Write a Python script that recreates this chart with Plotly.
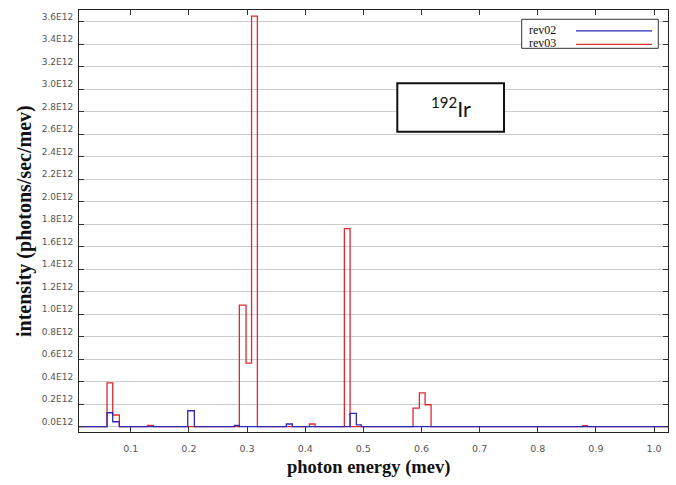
import plotly.graph_objects as go

# Step-histogram bins for the 192Ir photon spectrum: each energy is the left edge
# of a bin (MeV), the intensity holds until the next edge (photons/sec/MeV).
rev02_energy = [0.010, 0.0592, 0.0690, 0.0804, 0.1980, 0.2094, 0.2782, 0.2868,
                0.3676, 0.3779, 0.4772, 0.4880, 0.4966, 1.030]
rev02_intensity = [0.0, 0.124e12, 0.044e12, 0.0, 0.142e12, 0.0, 0.012e12, 0.0,
                   0.024e12, 0.0, 0.119e12, 0.016e12, 0.0, 0.0]

rev03_energy = [0.010, 0.0592, 0.0690, 0.0804, 0.1286, 0.1389, 0.2868, 0.2983,
                0.3078, 0.3178, 0.4072, 0.4170, 0.4674, 0.4772, 0.5855, 0.5964,
                0.6062, 0.6165, 0.8774, 0.8853, 1.030]
rev03_intensity = [0.0, 0.39e12, 0.104e12, 0.0, 0.012e12, 0.0, 1.08e12, 0.565e12,
                   3.65e12, 0.0, 0.024e12, 0.0, 1.76e12, 0.0, 0.165e12, 0.30e12,
                   0.195e12, 0.0, 0.010e12, 0.0, 0.0]

x_ticks = [0.1, 0.2, 0.3, 0.4, 0.5, 0.6, 0.7, 0.8, 0.9, 1.0]
x_tick_labels = ["0.1", "0.2", "0.3", "0.4", "0.5", "0.6", "0.7", "0.8", "0.9", "1.0"]
y_ticks = [i * 0.2e12 for i in range(19)]
y_tick_labels = [f"{i * 0.2:.1f}E12" for i in range(19)]

series_names = ["rev02", "rev03"]
series_colors = {"rev02": "#2b2bb8", "rev03": "#dc2a30"}

fig = go.Figure()
# rev03 first so the rev02 outline sits on top where they overlap
fig.add_trace(go.Scatter(x=rev03_energy, y=rev03_intensity, mode="lines", name="rev03",
                         line=dict(shape="hv", color=series_colors["rev03"], width=1.3),
                         showlegend=False))
fig.add_trace(go.Scatter(x=rev02_energy, y=rev02_intensity, mode="lines", name="rev02",
                         line=dict(shape="hv", color=series_colors["rev02"], width=1.3),
                         showlegend=False))

axis_common = dict(showline=True, linecolor="#222222", linewidth=1, mirror="ticks",
                   ticks="inside", ticklen=5, tickcolor="#333333", tickwidth=1,
                   zeroline=False)

fig.update_xaxes(range=[0.011, 1.024], tickvals=x_ticks, ticktext=x_tick_labels,
                 showgrid=False, ticklabelstandoff=8,
                 tickfont=dict(family="DejaVu Sans", size=9.5, color="#555555"),
                 **axis_common)
# labels sit a few pixels above their grid lines
fig.update_yaxes(range=[-0.047e12, 3.704e12], tickvals=y_ticks, ticktext=y_tick_labels,
                 showgrid=True, gridcolor="#cccccc", gridwidth=1,
                 ticklabelshift=-5, ticklabelstandoff=3,
                 tickfont=dict(family="DejaVu Sans", size=9, color="#555555"),
                 **axis_common)

annotations = [
    dict(text="<b>photon energy (mev)</b>", xref="paper", yref="paper",
         x=0.4907, y=-0.083, showarrow=False,
         font=dict(family="Liberation Serif", size=18.5, color="#111111"),
         xanchor="center", yanchor="middle"),
    dict(text="<b>intensity (photons/sec/mev)</b>", xref="paper", yref="paper",
         x=-0.0934, y=0.5, showarrow=False,
         font=dict(family="Liberation Serif", size=20, color="#111111"), textangle=-90,
         xanchor="center", yanchor="middle"),
    dict(text="<sup>192</sup>Ir", xref="paper", yref="paper",
         x=0.631, y=0.769, showarrow=False,
         font=dict(family="Lato", size=21.5, color="#111111"),
         xanchor="center", yanchor="middle"),
]

shapes = [
    # isotope label frame
    dict(type="rect", xref="paper", yref="paper", x0=0.5404, x1=0.7216,
         y0=0.7116, y1=0.8263, line=dict(color="#111111", width=2),
         fillcolor="white", layer="above"),
    # legend frame
    dict(type="rect", xref="paper", yref="paper", x0=0.7516, x1=0.9835,
         y0=0.9092, y1=0.978, line=dict(color="#333333", width=1),
         fillcolor="white", layer="above"),
]

legend_rows = [0.9533, 0.9215]
for name, row in zip(series_names, legend_rows):
    shapes.append(dict(type="line", xref="paper", yref="paper", x0=0.8438, x1=0.9728,
                       y0=row - 0.003, y1=row - 0.003,
                       line=dict(color=series_colors[name], width=1.3), layer="above"))
    annotations.append(dict(text=name, xref="paper", yref="paper", x=0.7606, y=row,
                            showarrow=False, xanchor="left", yanchor="middle",
                            font=dict(family="Liberation Serif", size=12, color="#111111")))

fig.update_layout(width=676, height=485, autosize=False,
                  margin=dict(l=79, r=8, t=10, b=53),
                  paper_bgcolor="white", plot_bgcolor="white",
                  shapes=shapes, annotations=annotations, showlegend=False)

fig.write_html("out.html")
